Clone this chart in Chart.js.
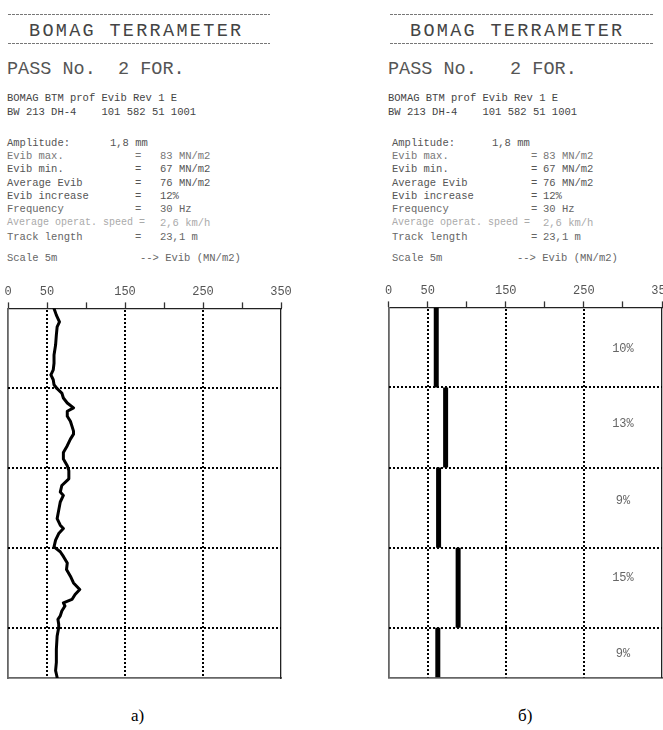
<!DOCTYPE html>
<html><head><meta charset="utf-8">
<script src="https://cdn.jsdelivr.net/npm/chart.js@4.4.1/dist/chart.umd.min.js"></script>
<style>
html,body{margin:0;padding:0;background:#fff;width:663px;height:730px;overflow:hidden;position:relative;}
.t{position:absolute;font-family:"Liberation Mono","DejaVu Sans Mono",monospace;color:#555;white-space:pre;line-height:14px;font-size:10.5px;}
.dash{position:absolute;height:1px;background:repeating-linear-gradient(90deg,#777 0 3px,transparent 3px 4px);}
.cap{position:absolute;font-family:"Liberation Serif","Times New Roman",serif;font-size:17px;color:#000;line-height:20px;}
canvas{position:absolute;}
</style></head>
<body>
<div id="hdr"></div>
<canvas id="cL" width="300" height="400" style="left:0px;top:282px;width:300px;height:400px"></canvas>
<canvas id="cR" width="296" height="400" style="left:380px;top:281px;width:296px;height:400px"></canvas>
<div class="cap" style="left:131px;top:706px">а)</div>
<div class="cap" style="left:518px;top:706px">б)</div>
<script>
// ---- data ----
const xTickValues = [0, 50, 100, 150, 200, 250, 300, 350];
const xLabelValues = [0, 50, 150, 250, 350];
const xLabelTexts = ['0', '50', '150', '250', '350'];
const xGridValues = [50, 150, 250];
const yGridValues = [5, 10, 15, 20];
const trackLength = 23.1;

// panel a) : continuous Evib record along the track (m -> MN/m2)
const lineDist = [0,0.42,0.84,1.15,1.66,2.29,2.91,3.43,3.84,4.15,4.46,4.77,5.02,5.29,5.6,5.91,6.22,6.43,6.74,7.05,7.36,7.67,7.86,8.17,8.58,9.0,9.41,9.83,10.14,10.65,11.07,11.48,11.69,12.1,12.62,13.14,13.55,13.76,14.07,14.48,14.9,15.21,15.5,15.91,16.32,16.74,17.16,17.57,17.88,18.19,18.4,18.6,18.91,19.22,19.43,19.74,19.95,20.47,21.29,22.12,22.64,22.85,23.07];
const lineEvib = [59,62,66,63,62,61,59,59,58,55,58,59,63,69,71,76,84,76,76,80,82,84,84,80,76,71,71,76,78,78,69,67,71,67,65,63,67,71,65,61,59,67,71,76,75,80,84,92,86,82,71,73,69,67,64,65,65,63,62,62,61,62,63];

// panel б) : 5 m section averages
const segStart = [0, 5, 10, 15, 20];
const segEnd = [5, 10, 15, 20, 23.1];
const segEvib = [61, 73, 64, 89, 63];
const pctLabels = ['10%', '13%', '9%', '15%', '9%'];
const pctDist = [2.6, 7.3, 12.1, 16.9, 21.6];
const pctEvib = 300;

// ---- header texts ----
const hdr = document.getElementById('hdr');
function txt(x, cy, s, extra) {
  const d = document.createElement('div');
  d.className = 't';
  d.textContent = s;
  d.style.left = x + 'px';
  d.style.top = (cy - 7) + 'px';
  if (extra) Object.assign(d.style, extra);
  hdr.appendChild(d);
}
function dash(x1, x2, y) {
  const d = document.createElement('div');
  d.className = 'dash';
  d.style.left = x1 + 'px'; d.style.width = (x2 - x1) + 'px'; d.style.top = y + 'px';
  hdr.appendChild(d);
}
const rowLabels = ['Evib max.', 'Evib min.', 'Average Evib', 'Evib increase', 'Frequency', 'Average operat. speed', 'Track length'];
const rowValues = ['83 MN/m2', '67 MN/m2', '76 MN/m2', '12%', '30 Hz', '2,6 km/h', '23,1 m'];
const rowColors = ['#777', '#555', '#555', '#555', '#666', '#aaa', '#666'];
const rowY = [156, 169.3, 182.7, 196, 209.3, 223.3, 236.7];
function panelText(p) {
  dash(p.dx1, p.dx2, 14); dash(p.dx1, p.dx2, 43);
  txt(p.titleX, 32, 'BOMAG TERRAMETER', {fontSize: '18.5px', letterSpacing: '2.3px', color: '#444', lineHeight: '20px', top: '22px'});
  txt(p.x0, 70, p.pass, {fontSize: '18.5px', color: '#555', lineHeight: '20px', top: '60px'});
  txt(p.x0, 98, 'BOMAG BTM prof Evib Rev 1 E', {color: '#444'});
  txt(p.x0, 112, 'BW 213 DH-4    101 582 51 1001', {color: '#444'});
  txt(p.lx, 143.3, 'Amplitude:', {color: '#555'});
  txt(p.ampX, 143.3, '1,8 mm', {color: '#555'});
  for (let i = 0; i < rowLabels.length; i++) {
    const c = rowColors[i];
    if (rowLabels[i] === 'Average operat. speed') {
      txt(p.lx, rowY[i], 'Average operat. speed =', {color: c, fontSize: '10px'});
    } else {
      txt(p.lx, rowY[i], rowLabels[i], {color: c});
      txt(p.eqX, rowY[i], '=', {color: c});
    }
    txt(p.vx, rowY[i], rowValues[i], {color: c});
  }
  txt(p.lx, 258.3, 'Scale 5m', {color: '#666'});
  txt(p.arrX, 258.3, '--> Evib (MN/m2)', {color: '#666'});
}
panelText({dx1: 8, dx2: 270, titleX: 29, x0: 7, pass: 'PASS No.  2 FOR.', lx: 7, ampX: 110, eqX: 135, vx: 160, arrX: 140});
panelText({dx1: 390, dx2: 653, titleX: 410, x0: 388, pass: 'PASS No.   2 FOR.', lx: 392, ampX: 492, eqX: 531, vx: 543, arrX: 517});

// ---- charts ----
// dotted grid lines placed through the chart's own scales
const dotGrid = {
  id: 'dotGrid',
  beforeDatasetsDraw(chart) {
    const {ctx, chartArea: a, scales: {x, y}} = chart;
    ctx.save();
    ctx.strokeStyle = '#000';
    ctx.lineWidth = 2;
    ctx.setLineDash([2, 2]);
    xGridValues.forEach(v => {
      const px = Math.round(x.getPixelForValue(v));
      ctx.beginPath(); ctx.moveTo(px, Math.round(a.top) + 2); ctx.lineTo(px, a.bottom); ctx.stroke();
    });
    yGridValues.forEach(v => {
      const py = Math.round(y.getPixelForValue(v));
      ctx.beginPath(); ctx.moveTo(Math.round(a.left), py); ctx.lineTo(a.right, py); ctx.stroke();
    });
    ctx.restore();
  }
};
function scales() {
  return {
    x: {
      type: 'linear', position: 'top', min: 0, max: 350,
      afterBuildTicks: s => { s.ticks = xTickValues.map(v => ({value: v})); },
      ticks: {
        autoSkip: false, maxRotation: 0, padding: 3, color: '#555',
        font: {family: 'Liberation Mono', size: 12},
        callback: v => { const i = xLabelValues.indexOf(v); return i >= 0 ? xLabelTexts[i] : ''; }
      },
      grid: {drawOnChartArea: false, drawTicks: true, tickLength: 6, tickColor: '#333', tickWidth: 1.3},
      border: {display: true, color: '#222', width: 1.3}
    },
    y: {
      type: 'linear', reverse: true, min: 0, max: trackLength,
      afterBuildTicks: s => { s.ticks = yGridValues.map(v => ({value: v})); },
      ticks: {display: false},
      grid: {drawOnChartArea: false, drawTicks: false},
      border: {display: true, color: '#666', width: 1.8}
    },
    x2: {
      type: 'linear', position: 'bottom', min: 0, max: 350,
      ticks: {display: false}, grid: {display: false, drawTicks: false},
      border: {display: true, color: '#666', width: 1.8}
    },
    y2: {
      type: 'linear', position: 'right', min: 0, max: trackLength,
      ticks: {display: false}, grid: {display: false, drawTicks: false},
      border: {display: true, color: '#222', width: 1.3}
    }
  };
}
const common = {
  responsive: false, animation: false, events: [],
  plugins: {legend: {display: false}, tooltip: {enabled: false}}
};

new Chart(document.getElementById('cL'), {
  type: 'line',
  data: {datasets: [{
    data: lineDist.map((d, i) => ({x: lineEvib[i], y: d})),
    borderColor: '#000', borderWidth: 3, pointRadius: 0, tension: 0, fill: false,
    borderJoinStyle: 'round', borderCapStyle: 'round'
  }]},
  options: Object.assign({}, common, {
    layout: {padding: {left: 8, right: 19, top: 0, bottom: 4}},
    scales: scales()
  }),
  plugins: [dotGrid]
});

const pctPlugin = {
  id: 'pct',
  afterDatasetsDraw(chart) {
    const ctx = chart.ctx, xs = chart.scales.x, ys = chart.scales.y;
    ctx.save();
    ctx.fillStyle = '#666';
    ctx.font = '12px "Liberation Mono"';
    ctx.textAlign = 'center'; ctx.textBaseline = 'middle';
    pctLabels.forEach((l, i) => ctx.fillText(l, xs.getPixelForValue(pctEvib), ys.getPixelForValue(pctDist[i])));
    ctx.restore();
  }
};
new Chart(document.getElementById('cR'), {
  type: 'line',
  data: {datasets: segEvib.map((v, i) => ({
    data: [{x: v, y: segStart[i]}, {x: v, y: segEnd[i]}],
    borderColor: '#000', borderWidth: 5, pointRadius: 0, fill: false, borderCapStyle: 'butt'
  }))},
  options: Object.assign({}, common, {
    layout: {padding: {left: 8.6, right: 14, top: 0, bottom: 3.6}},
    scales: scales()
  }),
  plugins: [dotGrid, pctPlugin]
});
</script>
</body></html>
